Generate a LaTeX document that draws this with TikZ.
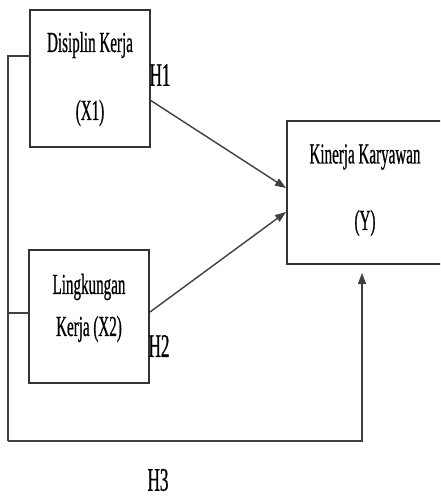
\documentclass[tikz,border=0pt]{standalone}
\usepackage{fontspec}
\setmainfont[FakeStretch=0.52,FakeBold=0.6]{Liberation Serif}
\usetikzlibrary{arrows.meta}
\begin{document}
\begin{tikzpicture}[x=1pt,y=-1pt,
  box/.style={draw=black!80,line width=1.4pt,fill=white},
  lbl/.style={inner sep=0pt,font=\fontsize{29}{31}\selectfont,text=black},
  hlbl/.style={inner sep=0pt,font=\fontsize{33}{35}\selectfont,text=black},
  conn/.style={draw=black!75,line width=1.4pt},
  arr/.style={conn,-{Triangle[length=11pt,width=8pt]}}]
\clip (0,0) rectangle (440,498);
\fill[white] (0,0) rectangle (440,498);
% boxes
\draw[box] (30,10) rectangle (150,147);
\draw[box] (29,250) rectangle (149,383);
\draw[box] (287,121) rectangle (446,264);
% box texts
\node[lbl] (t1a) at (90,45) {Disiplin Kerja};
\node[lbl] (t1b) at (90,113) {(X1)};
\node[lbl] (t2a) at (89,287) {Lingkungan};
\node[lbl] (t2b) at (89,329) {Kerja (X2)};
\node[lbl] (t3a) at (365,157) {Kinerja Karyawan};
\node[lbl] (t3b) at (365,223) {(Y)};
% connector points
\coordinate (x1out) at (150,100);
\coordinate (x2out) at (150,312);
\coordinate (yin1) at (286,188);
\coordinate (yin2) at (286,212);
\coordinate (x1left) at (30,56);
\coordinate (x2left) at (29,313);
\coordinate (ltop) at (8,56);
\coordinate (lmid) at (8,313);
\coordinate (lbot) at (8,441);
\coordinate (rbot) at (362,441);
\coordinate (ybot) at (362,273);
\draw[arr] (x1out) -- (yin1);
\draw[arr] (x2out) -- (yin2);
\draw[conn] (x1left) -- (ltop) -- (lbot);
\draw[conn] (x2left) -- (lmid);
\draw[arr] (lbot) -- (rbot) -- (ybot);
% hypothesis labels
\node[hlbl] (h1) at (160,75) {H1};
\node[hlbl] (h2) at (159,346) {H2};
\node[hlbl] (h3) at (158,480) {H3};
\end{tikzpicture}
\end{document}
